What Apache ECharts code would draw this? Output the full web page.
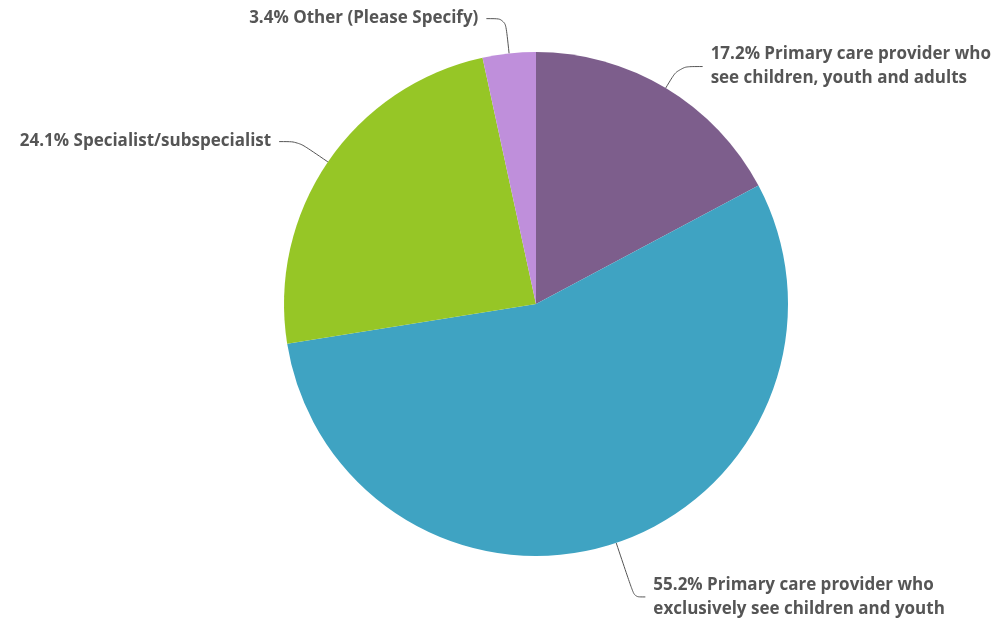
<!DOCTYPE html>
<html>
<head>
<meta charset="utf-8">
<script src="https://cdn.jsdelivr.net/npm/echarts@6/dist/echarts.min.js"></script>
<style>
html,body{margin:0;padding:0;background:#fff;}
#chart{width:999px;height:622px;}
</style>
</head>
<body>
<div id="chart"></div>
<script>
const categories = [
  "Primary care provider who\nsee children, youth and adults",
  "Primary care provider who\nexclusively see children and youth",
  "Specialist/subspecialist",
  "Other (Please Specify)"
];
const values = [17.2, 55.2, 24.1, 3.4];
const colors = ["#7d5e8c", "#3fa3c2", "#96c626", "#bf8fdb"];
// leader line lengths per slice (styling)
const lineLen = [25, 57, 36, 35];
const lineLen2 = [24, 11, 19, 19];

const chart = echarts.init(document.getElementById('chart'), null, {renderer: 'canvas'});
chart.setOption({
  animation: false,
  backgroundColor: '#ffffff',
  series: [{
    type: 'pie',
    center: [536, 304],
    radius: 252,
    startAngle: 90,
    clockwise: true,
    avoidLabelOverlap: false,
    data: categories.map((c, i) => ({
      name: c, value: values[i],
      itemStyle: {color: colors[i]},
      labelLine: {length: lineLen[i], length2: lineLen2[i]}
    })),
    label: {
      show: true,
      position: 'outside',
      formatter: p => p.value.toFixed(1) + '% ' + p.name,
      color: '#555555',
      fontFamily: '"Open Sans", Lato, sans-serif',
      fontWeight: 'bold',
      fontSize: 17,
      lineHeight: 24,
      distanceToLabelLine: 8
    },
    labelLine: {
      show: true,
      smooth: 0.3,
      lineStyle: {color: '#555555', width: 1}
    },
    itemStyle: {borderWidth: 0}
  }]
});
</script>
</body>
</html>
